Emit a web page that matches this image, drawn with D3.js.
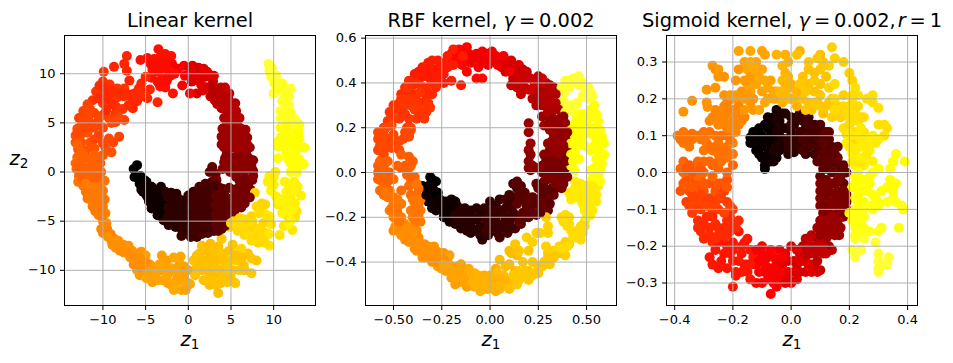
<!DOCTYPE html>
<html><head><meta charset="utf-8">
<script src="https://cdnjs.cloudflare.com/ajax/libs/d3/7.8.5/d3.min.js"></script>
<style>
html,body{margin:0;padding:0;background:#fff}
svg{display:block}
text{font-family:"DejaVu Sans",sans-serif;fill:#000}
</style></head><body>
<svg id="chart" width="953" height="363"></svg>
<script>
// Shade position along the spiral, one per group of points
const linearShades=[0,.04,.08,.11,.15,.19,.22,.26,.3,.34,.38,.43,.49,.53,.57,.6,.63,.66,.7,.73,.76,.79,.81,.83,.87,.89,.92,.95,.97,1,1.05];
const linearPoints=[
[[-6,.7],[-6.4,.3],[-6.3,-.5],[-5.6,-.4],[-5.7,-1.2],[-5.2,-.8],[-5,-1.5],[-5.3,-2],[-4.8,-2.5]],
[[-4.3,-1.5],[-4.5,-2.3],[-4.6,-3],[-3.8,-1.8],[-3.7,-2.6],[-4,-3.4],[-3.2,-1.5],[-3.2,-2.4],[-3.5,-3.5],[-3.6,-4.4]],
[[-2.7,-2],[-2.6,-3],[-2.8,-4],[-2.9,-4.9],[-2.3,-5.4],[-2,-2.1],[-2,-3.2],[-2,-4.2],[-1.8,-5],[-1.5,-5.6],[-1.4,-2.2],[-1.3,-3.5],[-1.2,-4.4]],
[[-.7,-3],[-.7,-4],[-.6,-5],[-.8,-5.8],[-.8,-6.5],[0,-2.4],[0,-3.4],[0,-4.3],[0,-5.2],[0,-6.2],[.6,-2],[.7,-3],[.7,-4],[.6,-5],[.7,-6],[1,-6.6]],
[[1.3,-1.5],[1.4,-2.5],[1.4,-3.6],[1.3,-4.5],[1.4,-5.4],[1.6,-6.3],[2,-1.2],[2.1,-2.2],[2,-3.3],[2.1,-4.3],[2.1,-5.3],[2.3,-6.2],[2.8,-1],[2.8,-2],[2.8,-3],[2.8,-4],[2.9,-5],[3,-6],[3.9,-5.8]],
[[2.8,.5],[2.5,0],[3.2,-.2],[3.5,-1.5],[3.6,-2.6],[3.6,-3.6],[3.7,-4.6],[4.2,-2.2],[4.3,-3.3],[4.4,-4.4],[4.5,-5],[5,-2.8]],
[[3.3,-.8],[4.8,-1.6],[5,-3.5],[5.1,-4.4],[5.5,-2.3],[5.6,-3.3],[6,-2.6],[6.2,-3.6],[6.5,-1.5],[6.9,-2.5],[7.3,-1.8],[7.5,-.8]],
[[4.2,1],[4,.3],[4.7,.8],[5.2,.2],[5.6,-.5],[6,.3],[6.4,-.3],[7,.3],[7.6,.1],[7.3,.9],[6.4,1],[5.5,1.2],[5,1.5],[4.5,1.8]],
[[4.2,2.5],[3.9,2.8],[4.5,3.3],[5.2,2.5],[6,2],[6.8,1.8],[7.2,2.5],[6.6,3],[5.8,3.2],[4.8,3.8],[4.4,4],[5.5,4],[6.5,3.8],[6.9,3.5]],
[[4.5,5],[4.2,5.5],[5,4.7],[5.8,4.7],[6.2,4.4],[5.5,5.5],[4.6,6],[5.6,6.2],[3.9,6.5],[4.8,6.8],[5.5,7]],
[[3.7,7.5],[3.1,7.3],[2.6,7.7],[4.2,7.5],[4.8,8],[3.4,8.3],[2.4,8.6],[3.8,8.6],[4.3,8.6],[2.9,9.2]],
[[1,8],[1.7,8.3],[2.1,8.6],[2,9.7],[1.2,9.3],[.4,9.2],[2.2,10.2],[1.2,10.6],[3,9.8],[.5,10.8]],
[[.2,8],[-.4,9.8],[.2,10],[-.5,10.8],[-1.2,10.5],[-1.9,11],[-2.1,9.8],[-.7,8.8]],
[[-1.8,8],[-2.7,8.6],[-3.3,8.7],[-3,9.6],[-3,10.6],[-3.4,11.6],[-3.5,12.5],[-2.7,12],[-2,11.8],[-4,11.5],[-4.2,10.4],[-4.8,11.6],[-5.6,11.4],[-4.3,9.6]],
[[-3.6,7.1],[-4.8,7.5],[-4.5,8.4],[-5.4,8.2],[-5.5,9],[-5,9.7],[-6,7.2],[-6.3,8],[-6.5,6.5],[-7.2,11.8],[-7.5,11],[-7.2,10.3],[-8.7,10.7],[-6.9,9.3]],
[[-7.5,8.5],[-9.9,10.2],[-10,9.2],[-9.2,8.9],[-8.3,8.5],[-7.5,7.7],[-8.3,7.6],[-9,7.5],[-10.2,8],[-10.8,8.2],[-11.2,7.3],[-10,7],[-8.5,6.7],[-7.7,6.4],[-8.5,6]],
[[-7.5,5.3],[-8.5,5.1],[-9.3,5.5],[-10,5.8],[-11,6],[-11.8,6.9],[-12.3,6.2],[-12.8,5.5],[-10.5,4.8],[-11.5,5],[-12.5,4.8],[-8.1,3.6],[-8.8,3],[-10.5,3.7]],
[[-13,4.4],[-13.2,3.7],[-13.2,3],[-12.5,3.9],[-11.8,4],[-12.5,3],[-11.5,3],[-12.9,2.3],[-12,2.2],[-11,2.4],[-9.7,2.5],[-10,1.7],[-9,2],[-10.3,.9]],
[[-13,1.5],[-13.2,.9],[-13.1,.3],[-12.3,1.3],[-12.4,.5],[-11.5,1.2],[-11.5,.5],[-10.7,.7],[-10.2,0],[-12.8,-.4],[-12,-.3],[-11.2,-.2],[-10.5,-.7]],
[[-12.9,-1],[-12.3,-1.4],[-11.5,-1.1],[-10.5,-1.3],[-9.8,-.9],[-12,-2],[-11.2,-2],[-10,-1.9],[-11.8,-2.7],[-11,-2.9],[-10,-2.8],[-11.2,-3.5],[-10.3,-3.7],[-9.8,-2.8]],
[[-10.5,-4.4],[-9.7,-4.2],[-10,-5],[-9.6,-5.2],[-10.2,-5.8],[-9.5,-5.8],[-10,-6.2],[-9.1,-6.3],[-8.7,-6.8]],
[[-9,-7],[-8.2,-7],[-8.5,-7.7],[-7.6,-7.4],[-7.5,-8.2],[-7,-7.5],[-6.6,-8],[-6.8,-8.7],[-6,-8.3],[-6,-9],[-5.5,-8.1]],
[[-5.3,-9.5],[-5,-8.5],[-6,-10],[-5.7,-10.5],[-4.8,-10.2],[-4.5,-9.4],[-4.2,-10.7],[-3.9,-9.7],[-3.3,-10],[-4.2,-11.2],[-3.1,-8.5],[-2.5,-9]],
[[-3,-11],[-2.5,-10.6],[-2,-9.8],[-1.7,-8.7],[-2,-11.5],[-1.5,-11.2],[-1.7,-12],[-1,-9.3],[-.9,-10],[-.9,-11],[-.9,-8.6],[0,-10],[-.2,-11.2],[.2,-11.4],[-.8,-12]],
[[1,-9.7],[1.3,-8.3],[1.3,-9.2],[1.6,-10],[2,-8],[2,-9],[2.2,-10],[2.2,-10.9],[2.5,-11.5],[2.6,-7.3],[2.7,-8.5],[3,-9.3],[3,-10.5],[3.5,-7.6],[3.6,-8.8],[3.5,-12.3],[3.8,-11.3],[3.8,-10]],
[[3.9,-6.8],[3.4,-8],[4.2,-8.3],[4.5,-9.5],[4.5,-10.5],[4.6,-11.2],[5.2,-7.4],[5,-9],[5.3,-10],[5.5,-11.3],[5.7,-9],[6,-10],[6.5,-9.5],[7,-8.3],[7.4,-8.8],[8,-9],[7.4,-10.3]],
[[4.9,-5.6],[5.3,-5],[5.5,-5.6],[6,-5.2],[5.8,-6],[6.5,-4.8],[6.6,-6.4],[7,-5.5],[7.4,-4.5],[7.8,-2.1],[8,-3.5],[8.6,-3.2],[9,-3.3],[7.8,-5.7],[8,-6.5],[8.8,-5.2],[8.2,-7.2],[9,-6.2],[6.2,-7.8],[5.9,-8.2]],
[[9.5,-7.5],[9.4,-6.3],[9.5,-4.5],[9,-4.3],[9.7,-5.3],[10.7,-6.4],[11.2,-5.5],[12.2,-5.9],[11.5,-4.4],[12.5,-4.6],[12.7,-4]],
[[9.3,-1],[9.5,-.4],[10,-.5],[10.2,0],[10,-1.3],[10.3,-2.5],[11,-2.8],[11.8,-1.3],[12,-2.5],[12.5,-3.2],[13.2,-2.4],[12.8,-1.5],[11.2,-3.5],[10.5,-3.3],[11.8,-3.3]],
[[12,0],[13,.7],[13.5,.8],[12.7,0],[12,.9],[11.7,1.3],[10.5,1.4],[13.2,2.5],[13.6,2.5],[12.5,1.8],[11.3,2.5],[10.5,2.6],[10.8,3.5],[11.4,4],[12,3.5],[12.9,4],[13,4.8],[12.7,3],[10.8,4.5]],
[[10.8,5.5],[11.2,5],[12,5],[12.5,5.4],[10.8,6.2],[11.4,6.3],[11.8,6.8],[11,7.2],[11.8,7.7],[11.1,8],[10,8],[11.2,8.5],[12,8.5],[10.6,9],[10.3,9.8],[9.7,9.7],[9.5,10.3],[9.4,11],[9.8,10.6]]
];
const linearFillShades=[.03,.09,.13,.18,.23,.27,.31,.36,.44,.52,.58,.64,.69,.74,.78,.82,.88,.93,.98,1,1.03];
const linearFillPoints=[
[[-5.5,-1.8],[-5,-2.2],[-4.9,-1],[-4.2,-2.8],[-4.3,-3.7],[-3.7,-2.2],[-3.4,-3],[-3,-3.3],[-3.3,-4.2]],
[[-2.4,-2.5],[-2.3,-3.6],[-2.4,-4.6],[-1.7,-2.8],[-1.7,-3.8],[-1.6,-4.6],[-1,-2.8],[-.9,-3.9],[-1,-4.8],[-1,-5.5],[-.3,-3.7],[-.3,-4.8],[-.3,-5.8],[-.3,-2.9]],
[[.3,-2.6],[.3,-3.5],[.3,-4.6],[.3,-5.6],[.3,-6.6],[1,-2.4],[1,-3.3],[1,-4.2],[1,-5.2],[1,-6],[1.7,-1.9],[1.7,-2.9],[1.7,-3.9],[1.7,-4.8],[1.7,-5.8],[2.4,-1.6],[2.4,-2.6],[2.4,-3.6],[2.4,-4.6],[2.4,-5.6],[3.2,-1.4]],
[[3.2,-2.4],[3.2,-3.4],[3.2,-4.4],[3.3,-5.4],[3.5,-6],[4,-1.7],[3.9,-2.9],[3.9,-4],[4,-5],[4.3,-5.5],[4.6,-2.7],[4.6,-3.8]],
[[5.3,-1.8],[5.3,-3],[5.4,-4],[5.9,-1.6],[5.9,-3],[6.5,-2.2],[6.6,-3.2],[7,-1.2],[7.2,-2.6],[6,-.9],[6.8,-.7]],
[[4.4,.4],[4.9,0],[5.5,.5],[6.2,.7],[6.8,.6],[7.4,.5],[4.8,1.2],[5.2,1],[5.8,1.6],[6.5,1.5],[7.1,1.4],[7.6,1.2],[4.3,1.4],[7.6,-.4]],
[[4.3,3],[4.7,2.6],[5.6,2.4],[6.3,2.5],[6.9,2.8],[5.1,3.2],[6.2,3.4],[4.6,4.3],[5.2,4.3],[6,4],[6.7,4.3],[3.9,3.6],[4,4.4]],
[[4.3,6.4],[5,5.4],[6,5.5],[5.2,6.5],[4.1,7],[4.7,7.4],[3.4,6.9],[3.8,8],[3,8],[2.9,8.6],[4.6,5.2]],
[[1.5,8.9],[.8,9.8],[1.6,9.8],[1.8,10.5],[2.5,9.9],[.2,10.6]],
[[-1.6,10],[-2.5,9.3],[-2.4,10.4],[-2.6,11.2],[-3.5,10.2],[-3.6,9.2],[-3.4,11],[-4.4,11]],
[[-5.5,7.7],[-5.8,8.5],[-6.5,7.3],[-7,7.9],[-7,6.8],[-8,8],[-8.9,8.2],[-9.6,8.5],[-10.4,8.8],[-9.5,7.6],[-8.9,6.9],[-9.6,6.3],[-10.5,7.5]],
[[-8.2,5.6],[-9,5],[-10,4.5],[-11,4.5],[-11.7,5.6],[-12.3,5.3],[-10.5,5.4],[-11.5,6.4],[-13,4],[-12.2,4.4],[-11,3.3],[-9.3,3.4],[-10,2.9]],
[[-12.5,2],[-13,2.8],[-12.7,.9],[-12,1.5],[-11,1.7],[-11,1],[-10.5,1.5],[-12.8,.1],[-11.9,.3],[-11,.3],[-10.6,.1],[-12.4,-.7],[-11.7,-.6],[-10.8,-.6]],
[[-12,-1.2],[-11,-1.5],[-10.4,-2],[-11.4,-2.4],[-10.5,-2.5],[-11.2,-3],[-10.6,-3.2],[-10.9,-4],[-10.2,-4.4],[-10.7,-3.7],[-10,-3.5]],
[[-9.4,-6.6],[-8.9,-7.4],[-8,-7.4],[-8,-8],[-7.1,-8.1],[-6.4,-8.5],[-6.4,-9.4],[-5.6,-8.8],[-5.6,-9.7],[-4.9,-9.2]],
[[-4.9,-10.8],[-3.9,-10.4],[-3.5,-11],[-3.4,-9.4],[-2.7,-9.6],[-2.4,-11.3],[-2.2,-10.2],[-1.4,-10.2],[-1.3,-9.8],[-.5,-9.6],[-.5,-10.6],[-1.3,-10.8],[-.3,-12]],
[[.8,-10.5],[.6,-9],[1,-8.5],[1.6,-7.5],[2,-9.5],[1.8,-11],[2.8,-11],[3.3,-9.8],[3,-8],[3.2,-11.5],[4,-9],[4,-10.7],[4.8,-8],[5,-10.8],[5.5,-8.5],[6.3,-8.7],[6.6,-10]],
[[6,-4.7],[6.4,-5.6],[7,-6.3],[7.4,-7],[7.5,-5],[8.3,-4.2],[8.2,-5.8],[8.6,-6.7],[9,-7.2],[8.3,-3.8],[5,-5.2]],
[[9.7,-1.9],[10.8,-3],[11.5,-2],[12.3,-1.9],[11.3,-1],[12.4,-1],[12.3,-3.8],[11.8,-4],[11,-4.2],[12,-4.9],[11.7,-5.3]],
[[12.5,.6],[13,1.3],[12.4,2.6],[11.8,3],[11.2,3.2],[12.5,3.6],[13,3.4],[11.5,4.7],[12.4,4.5],[10.5,3.1],[11.5,1.9]],
[[11.5,5.6],[11,5.8],[12,6],[11.5,7],[11,9],[10.1,9],[11.5,8],[10.4,8.5],[12.4,4.9]]
];
const rbfShades=[0,.04,.07,.1,.14,.17,.2,.24,.27,.3,.34,.38,.43,.48,.51,.55,.58,.61,.64,.68,.71,.74,.77,.79,.81,.84,.87,.89,.91,.93,.96,1,1,1.05];
const rbfPoints=[
[[-.31,-.02],[-.32,-.06],[-.3,-.03],[-.28,-.04],[-.35,-.06],[-.32,-.09],[-.29,-.08],[-.3,-.11],[-.27,-.09]],
[[-.32,-.13],[-.29,-.14],[-.27,-.14],[-.28,-.17],[-.25,-.17],[-.23,-.13],[-.2,-.12],[-.22,-.16],[-.24,-.2],[-.2,-.18],[-.18,-.13],[-.21,-.22]],
[[-.17,-.15],[-.16,-.19],[-.18,-.23],[-.15,-.25],[-.13,-.16],[-.12,-.2],[-.13,-.24],[-.1,-.17],[-.1,-.22],[-.1,-.27],[-.07,-.16],[-.07,-.21],[-.07,-.26]],
[[-.04,-.3],[-.04,-.25],[-.03,-.2],[-.03,-.16],[-.01,-.28],[0,-.23],[0,-.18],[0,-.13],[.02,-.26],[.03,-.2],[.03,-.15],[.05,-.12]],
[[.05,-.29],[.06,-.24],[.07,-.18],[.08,-.12],[.1,-.1],[.09,-.27],[.1,-.22],[.11,-.16],[.13,-.25],[.14,-.2],[.13,-.11],[.14,-.07],[.12,-.05]],
[[.16,-.23],[.17,-.18],[.16,-.12],[.14,-.04],[.16,-.06],[.15,-.1],[.2,-.2],[.21,-.16],[.24,-.19],[.18,-.09],[.13,-.05]],
[[.26,-.15],[.25,-.12],[.29,-.12],[.28,-.16],[.3,-.17],[.3,-.08],[.33,-.1],[.34,-.07],[.25,-.07],[.28,-.04],[.24,-.05]],
[[.27,0],[.3,-.03],[.33,-.02],[.36,-.04],[.38,-.05],[.38,0],[.34,.02],[.3,.03],[.27,.03],[.37,.03],[.39,.02]],
[[.3,.06],[.33,.07],[.36,.06],[.39,.07],[.41,.07],[.21,.08],[.2,.05],[.22,.03],[.21,.01],[.25,.02],[.28,.08],[.31,.1],[.37,.1],[.4,.11],[.2,.02]],
[[.21,.13],[.2,.18],[.2,.22],[.32,.14],[.36,.14],[.4,.15],[.33,.17],[.38,.19],[.31,.19],[.34,.21],[.39,.22],[.28,.21],[.36,.24],[.27,.25]],
[[.33,.28],[.36,.28],[.3,.27],[.27,.3],[.32,.33],[.28,.34],[.24,.3],[.28,.38],[.33,.38],[.25,.36]],
[[.16,.35],[.18,.38],[.11,.39],[.14,.38],[.22,.37],[.25,.4],[.29,.4],[.12,.42],[.17,.41],[.21,.42],[.25,.43],[.19,.45],[.15,.44]],
[[.08,.45],[.1,.47],[.13,.46],[.15,.48],[.11,.5],[.06,.47],[.08,.5],[.05,.51],[.02,.5]],
[[0,.5],[-.02,.53],[.01,.54],[.03,.52],[-.04,.54],[-.04,.49],[-.07,.51],[-.07,.53],[-.1,.49],[-.06,.47],[-.11,.53]],
[[-.07,.42],[-.04,.42],[-.12,.45],[-.145,.48],[-.14,.54],[-.12,.56],[-.16,.55],[-.17,.52],[-.14,.5],[-.2,.53],[-.18,.5],[-.21,.5]],
[[-.15,.39],[-.2,.41],[-.24,.4],[-.27,.42],[-.24,.49],[-.28,.46],[-.27,.5],[-.32,.49],[-.3,.46],[-.33,.43],[-.37,.45],[-.35,.47],[-.24,.44]],
[[-.28,.38],[-.3,.4],[-.33,.38],[-.38,.42],[-.42,.41],[-.44,.38],[-.4,.39],[-.36,.39],[-.3,.35],[-.33,.34],[-.38,.35],[-.46,.35],[-.41,.35],[-.36,.31]],
[[-.35,.28],[-.31,.29],[-.34,.24],[-.39,.28],[-.41,.3],[-.44,.3],[-.47,.31],[-.49,.28],[-.5,.24],[-.47,.24],[-.42,.24],[-.38,.24],[-.43,.2],[-.53,.23],[-.55,.2]],
[[-.41,.2],[-.42,.17],[-.45,.15],[-.42,.16],[-.55,.17],[-.58,.18],[-.56,.14],[-.53,.15],[-.5,.17],[-.49,.14],[-.58,.1],[-.55,.1],[-.51,.11],[-.47,.1]],
[[-.46,.08],[-.42,.07],[-.4,.05],[-.56,.06],[-.58,.03],[-.58,0],[-.55,.03],[-.52,0],[-.46,.02],[-.44,.03],[-.41,.03],[-.55,-.02],[-.53,0]],
[[-.56,-.04],[-.57,-.08],[-.54,-.06],[-.55,-.1],[-.52,-.08],[-.5,-.03],[-.41,-.03],[-.42,-.06],[-.39,-.04],[-.37,-.07],[-.41,-.1],[-.38,-.1],[-.46,-.08]],
[[-.5,-.14],[-.48,-.12],[-.46,-.14],[-.52,-.17],[-.5,-.2],[-.48,-.18],[-.46,-.2],[-.36,-.12],[-.39,-.14],[-.38,-.18],[-.36,-.17],[-.41,-.17],[-.39,-.22],[-.36,-.22]],
[[-.49,-.24],[-.5,-.26],[-.46,-.25],[-.44,-.23],[-.43,-.27],[-.41,-.25],[-.38,-.26],[-.44,-.3],[-.41,-.29],[-.37,-.29],[-.39,-.31],[-.36,-.33]],
[[-.34,-.35],[-.38,-.35],[-.35,-.38],[-.33,-.38],[-.32,-.33],[-.31,-.36],[-.29,-.33],[-.3,-.4],[-.27,-.38],[-.26,-.36],[-.24,-.36],[-.26,-.4]],
[[-.25,-.43],[-.22,-.4],[-.27,-.42],[-.23,-.44],[-.21,-.37],[-.2,-.42],[-.2,-.47],[-.17,-.42],[-.17,-.46],[-.18,-.5],[-.13,-.47],[-.14,-.43],[-.16,-.49],[-.12,-.51]],
[[-.1,-.47],[-.11,-.43],[-.08,-.45],[-.08,-.51],[-.07,-.48],[-.05,-.53],[-.04,-.5],[-.03,-.46],[-.01,-.52],[.01,-.49],[.03,-.53],[.02,-.47],[.03,-.43]],
[[.05,-.39],[.04,-.45],[.06,-.5],[.07,-.46],[.08,-.42],[.1,-.48],[.1,-.41],[.11,-.36],[.14,-.37],[.1,-.35],[.13,-.44],[.12,-.5],[.1,-.52]],
[[.13,-.32],[.15,-.35],[.17,-.4],[.17,-.46],[.2,-.48],[.2,-.44],[.23,-.45],[.22,-.4],[.2,-.35],[.25,-.42],[.28,-.4],[.31,-.41]],
[[.19,-.29],[.22,-.31],[.24,-.27],[.29,-.33],[.3,-.36],[.33,-.35],[.37,-.36],[.39,-.37],[.36,-.33],[.39,-.31],[.41,-.32],[.29,-.2],[.3,-.24],[.3,-.27],[.26,-.27]],
[[.37,-.2],[.39,-.19],[.41,-.2],[.4,-.24],[.42,-.26],[.44,-.29],[.47,-.3],[.48,-.27],[.45,-.26],[.49,-.24],[.49,-.22]],
[[.41,-.09],[.44,-.07],[.42,-.12],[.45,-.11],[.48,-.08],[.5,-.1],[.52,-.09],[.51,-.13],[.48,-.14],[.53,-.13],[.51,-.17],[.53,-.17],[.55,-.1],[.44,-.04],[.47,-.05],[.56,-.06]],
[[.53,-.03],[.57,-.04],[.54,.02],[.57,.01],[.58,.04],[.55,.06],[.44,.01],[.42,.03],[.46,.06],[.42,.08],[.45,.12],[.42,.13],[.56,.1],[.59,.08],[.54,.12],[.49,.12],[.59,.13],[.55,.15]],
[[.42,.19],[.44,.16],[.46,.19],[.48,.16],[.51,.18],[.5,.22],[.57,.19],[.58,.16],[.54,.2],[.47,.22],[.56,.23],[.44,.22],[.47,.26],[.53,.25],[.52,.28],[.54,.3]],
[[.42,.3],[.39,.27],[.43,.27],[.44,.3],[.51,.33],[.49,.35],[.53,.34],[.51,.38],[.48,.4],[.46,.43],[.43,.42],[.39,.41],[.37,.38],[.41,.38],[.39,.36],[.38,.32]]
];
const rbfFillShades=[.03,.08,.12,.18,.24,.29,.35,.4,.47,.55,.6,.64,.69,.73,.78,.82,.85,.89,.93,.96,1,1.05];
const rbfFillPoints=[
[[-.33,-.1],[-.3,-.06],[-.26,-.12],[-.3,-.16],[-.25,-.15],[-.22,-.19],[-.19,-.15],[-.21,-.14]],
[[-.15,-.17],[-.15,-.21],[-.12,-.18],[-.12,-.26],[-.09,-.2],[-.09,-.25],[-.05,-.19],[-.05,-.24],[-.05,-.28],[-.18,-.19]],
[[-.02,-.21],[-.02,-.26],[.01,-.17],[.01,-.22],[.04,-.23],[.04,-.27],[.05,-.17],[.08,-.16],[.08,-.21],[.08,-.25],[.11,-.2],[.11,-.25],[.11,-.13],[.12,-.18]],
[[.14,-.14],[.15,-.22],[.18,-.2],[.19,-.15],[.19,-.12],[.22,-.18],[.23,-.14],[.26,-.18],[.22,-.11],[.27,-.1],[.31,-.14],[.32,-.07],[.28,-.07]],
[[.29,-.01],[.31,0],[.36,-.01],[.34,-.05],[.37,-.07],[.4,-.02],[.32,.05],[.35,.04],[.29,.05],[.39,.05]],
[[.35,.09],[.33,.11],[.38,.12],[.3,.13],[.35,.17],[.36,.2],[.4,.18],[.33,.24],[.38,.25],[.31,.23],[.37,.16],[.2,.1]],
[[.34,.31],[.3,.31],[.25,.33],[.3,.36],[.26,.34],[.34,.35],[.31,.39],[.22,.33]],
[[.15,.41],[.19,.42],[.23,.4],[.27,.42],[.2,.37],[.14,.44],[.17,.46]],
[[.07,.52],[.04,.48],[.1,.45],[.01,.52],[-.01,.48],[-.03,.51],[-.05,.52],[-.09,.51]],
[[-.14,.52],[-.19,.55],[-.19,.48],[-.22,.52],[-.25,.47],[-.3,.5],[-.34,.46],[-.31,.42],[-.27,.44],[-.39,.44],[-.35,.43],[-.22,.47]],
[[-.36,.36],[-.43,.38],[-.46,.33],[-.43,.33],[-.38,.32],[-.32,.31],[-.5,.3],[-.47,.28],[-.52,.27],[-.44,.26],[-.4,.33],[-.36,.26],[-.33,.27]],
[[-.51,.21],[-.54,.2],[-.58,.15],[-.51,.14],[-.47,.14],[-.53,.12],[-.57,.12],[-.55,.08],[-.41,.19],[-.44,.18]],
[[-.57,.05],[-.56,.01],[-.53,.05],[-.48,.03],[-.42,.02],[-.43,-.01],[-.56,-.02],[-.58,-.03],[-.53,-.04],[-.39,-.02]],
[[-.53,-.11],[-.54,-.09],[-.5,-.11],[-.48,-.16],[-.51,-.16],[-.37,-.14],[-.4,-.12],[-.38,-.05],[-.47,-.22],[-.48,-.21],[-.38,-.16],[-.37,-.2],[-.4,-.2]],
[[-.46,-.28],[-.43,-.25],[-.42,-.31],[-.4,-.27],[-.39,-.34],[-.37,-.32],[-.34,-.32],[-.35,-.36],[-.32,-.36],[-.3,-.38],[-.28,-.35],[-.28,-.4],[-.24,-.39]],
[[-.24,-.41],[-.22,-.43],[-.2,-.45],[-.18,-.44],[-.15,-.46],[-.15,-.41],[-.13,-.49],[-.18,-.47],[-.11,-.49]],
[[-.09,-.49],[-.06,-.5],[-.06,-.46],[-.03,-.52],[-.02,-.49],[0,-.46],[.02,-.51],[.05,-.52],[.08,-.48],[.05,-.47]],
[[.12,-.46],[.15,-.44],[.15,-.48],[.18,-.44],[.22,-.46],[.25,-.45],[.27,-.42],[.3,-.38],[.33,-.38],[.36,-.36],[.14,-.5]],
[[.41,-.23],[.43,-.29],[.46,-.28],[.38,-.22],[.47,-.24],[.4,-.33],[.37,-.34]],
[[.46,-.09],[.5,-.06],[.53,-.06],[.43,-.1],[.47,-.12],[.5,-.15],[.55,-.13],[.52,-.19],[.49,-.17],[.5,-.2]],
[[.56,-.01],[.56,.03],[.52,.01],[.43,.05],[.44,.09],[.57,.06],[.57,.12],[.52,.1],[.47,.14],[.44,.13],[.55,.17],[.57,.14],[.53,.17],[.45,.22],[.49,.19],[.55,.26],[.51,.24],[.49,.26],[.45,.24]],
[[.46,.39],[.5,.37],[.52,.36],[.48,.34],[.44,.41],[.41,.41],[.45,.31],[.4,.3]]
];
const sigmoidShades=[0,.04,.08,.12,.16,.2,.25,.31,.37,.42,.46,.5,.54,.58,.62,.66,.7,.73,.76,.79,.82,.85,.88,.91,.94,.97,1,1.02,1.05];
const sigmoidPoints=[
[[-.12,.1],[-.13,.08],[-.12,.06],[-.1,.1],[-.1,.07],[-.1,.04],[-.09,.02],[-.09,.01],[-.07,.06],[-.11,.12],[-.08,.12],[-.14,.095]],
[[-.08,.15],[-.06,.15],[-.06,.12],[-.06,.09],[-.05,.04],[-.06,.03],[-.04,.06],[-.07,.03],[-.05,.17],[-.04,.14],[-.04,.1],[-.03,.07]],
[[-.02,.16],[-.02,.12],[-.02,.09],[-.01,.05],[0,.15],[0,.11],[0,.07],[.01,.055],[.01,.13],[.01,.09]],
[[.03,.16],[.04,.14],[.03,.11],[.03,.07],[.05,.05],[.05,.09],[.05,.12],[.06,.15],[.08,.13],[.07,.08],[.08,.05],[.07,.11]],
[[.1,.13],[.11,.11],[.1,.09],[.1,.06],[.13,.09],[.12,.07],[.14,.07],[.09,.03],[.12,.03],[.13,.05],[.15,.05],[.1,.1]],
[[.11,.01],[.14,.03],[.16,.04],[.18,.02],[.14,0],[.17,0],[.19,0],[.1,-.01],[.12,-.02],[.15,-.03],[.18,-.03]],
[[.1,-.03],[.1,-.05],[.13,-.05],[.16,-.05],[.19,-.06],[.1,-.07],[.13,-.08],[.15,-.08],[.18,-.08],[.19,-.1],[.1,-.09],[.12,-.09],[.14,-.09],[.165,-.09],[.11,-.11],[.13,-.11],[.16,-.11],[.18,-.12]],
[[.1,-.13],[.09,-.15],[.12,-.13],[.11,-.16],[.14,-.12],[.16,-.13],[.17,-.15],[.14,-.16],[.12,-.18],[.09,-.18],[.165,-.17],[.15,-.15]],
[[.07,-.17],[.05,-.18],[.08,-.2],[.06,-.2],[.1,-.19],[.13,-.2],[.14,-.21],[.11,-.22],[.08,-.22],[.04,-.2],[.03,-.22],[.09,-.24],[.1,-.265]],
[[.05,-.23],[.07,-.25],[.05,-.27],[.02,-.25],[0,-.2],[.01,-.24],[.03,-.27],[.09,-.27]],
[[-.02,-.22],[-.03,-.25],[-.01,-.27],[0,-.3],[-.02,-.3],[-.04,-.21],[-.05,-.24],[-.05,-.28],[-.03,-.29]],
[[-.07,-.21],[-.1,-.22],[-.09,-.25],[-.07,-.26],[-.08,-.29],[-.06,-.3],[-.07,-.33],[-.1,-.3],[-.12,-.3],[-.12,-.25],[-.1,-.2],[-.11,-.27],[-.06,-.23]],
[[-.13,-.23],[-.14,-.21],[-.15,-.18],[-.14,-.29],[-.15,-.27],[-.15,-.25],[-.17,-.2],[-.18,-.24],[-.19,-.27],[-.18,-.16],[-.2,-.19],[-.2,-.21],[-.19,-.28],[-.2,-.31],[-.22,-.26],[-.25,-.26],[-.28,-.23],[-.26,-.21],[-.23,-.22]],
[[-.18,-.13],[-.21,-.16],[-.23,-.19],[-.25,-.17],[-.27,-.19],[-.2,-.14],[-.22,-.13],[-.25,-.15],[-.28,-.17],[-.3,-.18],[-.31,-.16],[-.26,-.14],[-.3,-.14],[-.32,-.13],[-.29,-.12]],
[[-.2,-.1],[-.22,-.08],[-.25,-.1],[-.27,-.1],[-.3,-.08],[-.33,-.1],[-.36,-.08],[-.31,-.1],[-.34,-.11],[-.24,-.07],[-.28,-.07],[-.33,-.07]],
[[-.23,-.05],[-.26,-.05],[-.24,-.03],[-.22,-.02],[-.3,-.05],[-.32,-.04],[-.35,-.05],[-.38,-.05],[-.36,-.02],[-.33,-.02],[-.28,-.03],[-.31,-.02]],
[[-.37,0],[-.38,.01],[-.37,.03],[-.33,.01],[-.3,0],[-.32,-.01],[-.27,-.01],[-.25,.01],[-.22,0],[-.25,.03],[-.2,.02],[-.28,.03],[-.32,.03],[-.3,.03],[-.27,.02]],
[[-.22,.04],[-.25,.05],[-.2,.05],[-.27,.06],[-.3,.06],[-.22,.07],[-.25,.08],[-.29,.08],[-.35,.07],[-.37,.08],[-.39,.1],[-.37,.11],[-.34,.09],[-.31,.09],[-.26,.1],[-.22,.1],[-.29,.1],[-.32,.1]],
[[-.2,.08],[-.19,.11],[-.22,.12],[-.25,.13],[-.2,.14],[-.24,.15],[-.28,.14],[-.2,.17],[-.23,.18],[-.26,.17],[-.17,.14],[-.16,.15]],
[[-.2,.2],[-.23,.21],[-.17,.2],[-.17,.22],[-.14,.19],[-.13,.17],[-.13,.2],[-.29,.19],[-.287,.178],[-.34,.195],[-.37,.165],[-.29,.225],[-.26,.28],[-.25,.26],[-.23,.26],[-.26,.23],[-.19,.25],[-.18,.28]],
[[-.15,.24],[-.13,.26],[-.14,.22],[-.15,.28],[-.16,.3],[-.18,.33],[-.12,.3],[-.1,.28],[-.12,.24],[-.09,.32],[-.1,.33],[-.1,.22],[-.07,.25],[-.08,.2],[-.11,.17],[-.05,.22]],
[[-.05,.2],[-.03,.19],[-.02,.24],[-.02,.27],[-.02,.22],[-.01,.3],[-.05,.32],[-.02,.32],[0,.2],[0,.24],[.02,.22],[.02,.18],[.03,.33]],
[[.02,.32],[.04,.26],[.04,.2],[.06,.24],[.06,.19],[.07,.17],[.06,.28],[.08,.27],[.1,.28],[.1,.24],[.08,.22],[.09,.19],[.11,.16],[.11,.3],[.12,.26],[.1,.32]],
[[.14,.34],[.13,.29],[.15,.31],[.13,.23],[.14,.2],[.16,.18],[.14,.15],[.17,.15],[.18,.21],[.17,.16],[.18,.3],[.2,.27],[.21,.25]],
[[.21,.2],[.22,.16],[.23,.14],[.25,.15],[.21,.14],[.18,.12],[.19,.105],[.22,.11],[.25,.11],[.22,.23],[.23,.21],[.26,.2],[.28,.21],[.28,.19],[.3,.175],[.3,.13],[.33,.12],[.32,.13],[.32,.1]],
[[.19,.08],[.22,.08],[.24,.07],[.21,.05],[.23,.04],[.26,.09],[.28,.1],[.3,.09],[.27,.06],[.25,.04],[.22,.02],[.25,.02],[.28,.03]],
[[.22,-.01],[.24,-.02],[.21,-.04],[.24,-.05],[.27,-.01],[.28,0],[.25,-.08],[.22,-.07],[.28,-.06],[.33,-.04],[.36,-.03],[.3,.01],[.34,.01],[.36,.05],[.39,.03],[.35,.03],[.31,-.05]],
[[.2,-.11],[.22,-.1],[.25,-.1],[.27,-.09],[.3,-.09],[.33,-.08],[.35,-.07],[.38,-.09],[.385,-.1],[.36,-.08],[.22,-.13],[.25,-.12],[.24,-.14],[.22,-.15],[.27,-.16],[.3,-.16],[.31,-.15],[.37,-.15]],
[[.22,-.18],[.25,-.18],[.21,-.21],[.24,-.21],[.22,-.23],[.29,-.19],[.3,-.22],[.3,-.24],[.3,-.26],[.3,-.27],[.335,-.23],[.33,-.25]]
];
const sigmoidFillShades=[.02,.06,.1,.14,.18,.24,.3,.38,.44,.49,.54,.58,.63,.67,.72,.76,.8,.83,.86,.89,.93,.96,1,1.02];
const sigmoidFillPoints=[
[[-.14,.08],[-.12,.085],[-.13,.11],[-.11,.08],[-.09,.09],[-.08,.05],[-.11,.05],[-.08,.08],[-.07,.1],[-.09,.13],[-.07,.13],[-.09,.035]],
[[-.05,.14],[-.05,.11],[-.05,.07],[-.03,.16],[-.03,.12],[-.03,.09],[-.06,.06]],
[[0,.13],[.01,.07],[-.01,.09],[-.01,.07],[.02,.15],[.02,.09],[0,.09]],
[[.04,.09],[.04,.06],[.06,.13],[.06,.1],[.06,.07],[.08,.1],[.09,.12],[.09,.07]],
[[.11,.08],[.12,.11],[.13,.11],[.14,.05],[.11,.05],[.16,.07],[.1,.03],[.12,.01],[.16,.02],[.13,.02]],
[[.11,-.04],[.14,-.03],[.17,-.01],[.18,-.05],[.12,-.06],[.15,-.06],[.11,-.09],[.17,-.07],[.19,-.08],[.12,-.03],[.16,-.02]],
[[.12,-.15],[.13,-.14],[.11,-.14],[.15,-.17],[.13,-.17],[.16,-.15],[.1,-.17],[.12,-.2],[.15,-.13]],
[[.06,-.18],[.09,-.21],[.07,-.22],[.05,-.21],[.11,-.2],[.12,-.22],[.04,-.24],[.06,-.22],[.08,-.25]],
[[.03,-.24],[.02,-.21],[.01,-.27],[.02,-.29],[.06,-.25],[.07,-.27],[-.01,-.24],[-.01,-.29]],
[[-.03,-.23],[-.04,-.27],[-.06,-.26],[-.07,-.28],[-.08,-.23],[-.05,-.31],[-.09,-.27],[-.11,-.24],[-.12,-.21]],
[[-.14,-.25],[-.17,-.22],[-.16,-.25],[-.16,-.19],[-.17,-.27],[-.2,-.24],[-.21,-.22],[-.24,-.24],[-.27,-.25],[-.22,-.2],[-.25,-.19]],
[[-.19,-.15],[-.23,-.15],[-.24,-.17],[-.26,-.18],[-.22,-.17],[-.28,-.15],[-.21,-.12],[-.27,-.12],[-.32,-.15]],
[[-.21,-.09],[-.23,-.11],[-.26,-.08],[-.29,-.09],[-.32,-.08],[-.35,-.09],[-.34,-.06],[-.31,-.06],[-.23,-.05],[-.25,-.07]],
[[-.25,-.03],[-.37,-.03],[-.34,-.04],[-.3,-.03],[-.22,-.04],[-.34,0],[-.36,.01],[-.31,.01],[-.35,.02]],
[[-.24,.03],[-.23,.06],[-.28,.07],[-.36,.09],[-.38,.09],[-.34,.105],[-.3,.11],[-.24,.1],[-.28,.11],[-.21,.09],[-.26,.07]],
[[-.21,.12],[-.18,.13],[-.23,.14],[-.27,.15],[-.19,.16],[-.22,.16],[-.25,.16],[-.22,.19],[-.18,.18]],
[[-.21,.21],[-.16,.2],[-.15,.21],[-.19,.21],[-.16,.17],[-.14,.26],[-.16,.25],[-.25,.28],[-.27,.29]],
[[-.13,.28],[-.14,.3],[-.11,.26],[-.09,.25],[-.08,.23],[-.09,.19],[-.06,.22],[-.14,.33],[-.06,.2]],
[[-.04,.22],[-.03,.25],[-.03,.29],[-.01,.26],[-.01,.2],[-.03,.21],[.01,.2],[-.01,.23]],
[[.03,.24],[.05,.22],[.08,.25],[.08,.19],[.1,.21],[.12,.18],[.13,.19],[.05,.17],[.11,.29],[.06,.3],[.1,.18],[.09,.31]],
[[.15,.24],[.15,.2],[.15,.17],[.18,.18],[.19,.16],[.2,.18],[.21,.21],[.2,.15],[.23,.18],[.24,.15],[.2,.13],[.22,.09]],
[[.2,.1],[.23,.1],[.24,.12],[.2,.07],[.22,.06],[.24,.09],[.26,.07],[.29,.08],[.26,.05],[.24,.02],[.21,.03]],
[[.23,0],[.25,-.02],[.22,-.03],[.26,-.05],[.23,-.06],[.27,-.03],[.23,-.08],[.25,-.05],[.29,-.07],[.35,-.05],[.34,-.02],[.3,-.08]],
[[.21,-.13],[.23,-.11],[.26,-.09],[.28,-.1],[.24,-.16],[.22,-.17],[.25,-.15]]
];
const linearXTicks=[-10,-5,0,5,10], linearYTicks=[-10,-5,0,5,10];
const rbfXTicks=[-.5,-.25,0,.25,.5], rbfYTicks=[-.4,-.2,0,.2,.4,.6];
const sigmoidXTicks=[-.4,-.2,0,.2,.4], sigmoidYTicks=[-.3,-.2,-.1,0,.1,.2,.3];

const hot=d3.scaleLinear().domain([0,.5,1,1.1]).range(["#000000","#ff0000","#ffff00","#ffff66"]).clamp(true);
const svg=d3.select("#chart");
const top_=35.5, bottom=305.5, R=5, GRID="#b0b0b0", TICK=13, TITLE=19.4, LABEL=19.4;
const thin="\u2009", hair="\u200a";

const panels=[
 {left:64.5,right:315.5,xd:[-14.5,14.9],yd:[-13.58,13.89],xt:linearXTicks,yt:linearYTicks,xf:d3.format("d"),yf:d3.format("d"),shades:linearShades.concat(linearFillShades),pts:linearPoints.concat(linearFillPoints),
  title:[["Linear kernel"]],ylabel:true},
 {left:365.5,right:616.5,xd:[-.645,.655],yd:[-.594,.612],xt:rbfXTicks,yt:rbfYTicks,xf:d3.format(".2f"),yf:d3.format(".1f"),shades:rbfShades.concat(rbfFillShades),pts:rbfPoints.concat(rbfFillPoints),
  title:[["RBF kernel, "],["γ","i"],[thin+"="+thin+"0.002"]]},
 {left:666.5,right:917.5,xd:[-.428,.434],yd:[-.361,.372],xt:sigmoidXTicks,yt:sigmoidYTicks,xf:d3.format(".1f"),yf:d3.format(".1f"),shades:sigmoidShades.concat(sigmoidFillShades),pts:sigmoidPoints.concat(sigmoidFillPoints),
  title:[["Sigmoid kernel, "],["γ","i"],[thin+"="+thin+"0.002,"+hair],["r","i"],[thin+"="+thin+"1"]]}
];

function zLabel(x,y,sub){
  const t=svg.append("text").attr("x",x).attr("y",y).attr("text-anchor","middle").style("font-size",LABEL+"px");
  t.append("tspan").style("font-style","italic").text("z");
  t.append("tspan").attr("dy",3).style("font-size",(LABEL*.7)+"px").text(sub);
}

panels.forEach(p=>{
  const x=d3.scaleLinear().domain(p.xd).range([p.left,p.right]);
  const y=d3.scaleLinear().domain(p.yd).range([bottom,top_]);
  const g=svg.append("g");
  const flat=p.pts.flatMap((band,i)=>band.map(d=>({x:d[0],y:d[1],t:p.shades[i]})));
  g.selectAll("circle").data(flat).join("circle")
    .attr("cx",d=>x(d.x)).attr("cy",d=>y(d.y)).attr("r",R).attr("fill",d=>hot(d.t));
  // grid sits above the points
  g.selectAll("line.gx").data(p.xt).join("line").attr("class","gx")
    .attr("x1",d=>x(d)).attr("x2",d=>x(d)).attr("y1",top_).attr("y2",bottom).attr("stroke",GRID).attr("stroke-width",1);
  g.selectAll("line.gy").data(p.yt).join("line").attr("class","gy")
    .attr("y1",d=>y(d)).attr("y2",d=>y(d)).attr("x1",p.left).attr("x2",p.right).attr("stroke",GRID).attr("stroke-width",1);
  const ax=g.append("g").attr("transform",`translate(0,${bottom})`)
    .call(d3.axisBottom(x).tickValues(p.xt).tickFormat(d=>p.xf(d)).tickSize(4.5).tickPadding(4.5).offset(0));
  const ay=g.append("g").attr("transform",`translate(${p.left},0)`)
    .call(d3.axisLeft(y).tickValues(p.yt).tickFormat(d=>p.yf(d)).tickSize(4.5).tickPadding(4.5).offset(0));
  [ax,ay].forEach(a=>{a.selectAll("text").style("font-size",TICK+"px").style("font-family",'"DejaVu Sans"');
    a.select(".domain").remove();a.selectAll("line").attr("stroke","#000").attr("stroke-width",1);});
  g.append("rect").attr("x",p.left).attr("y",top_).attr("width",p.right-p.left).attr("height",bottom-top_)
    .attr("fill","none").attr("stroke","#000").attr("stroke-width",1);
  const cx=(p.left+p.right)/2;
  const t=svg.append("text").attr("x",cx).attr("y",27).attr("text-anchor","middle").style("font-size",TITLE+"px");
  p.title.forEach(s=>{const ts=t.append("tspan").text(s[0]); if(s[1]) ts.style("font-style","italic");});
  zLabel(cx,346,"1");
  if(p.ylabel) zLabel(19,165,"2");
});
</script>
</body></html>
